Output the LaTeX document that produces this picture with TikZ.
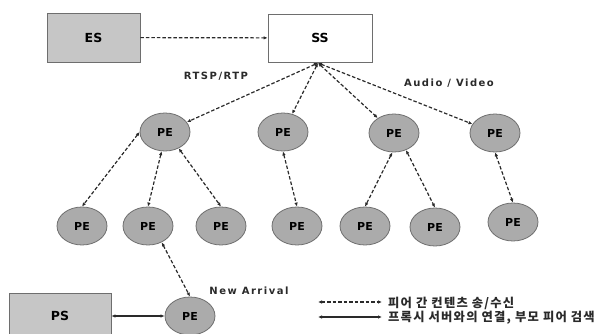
\documentclass[tikz,border=0pt]{standalone}
\usepackage{fontspec}
\setmainfont{DejaVu Sans}
\newfontfamily\krfont{Noto Sans CJK KR}[LetterSpace=10]
\newfontfamily\lblfont{DejaVu Sans}[LetterSpace=15]
\usetikzlibrary{arrows.meta,shapes.geometric}
\definecolor{boxgray}{HTML}{C6C6C6}
\definecolor{pegray}{HTML}{ABABAB}
\definecolor{edgegray}{HTML}{6E6E6E}
\definecolor{linecol}{HTML}{2A2A2A}
\tikzset{
  box/.style={draw=edgegray, line width=0.8pt, rectangle, inner sep=0pt, font=\fontsize{12.5}{14}\selectfont\bfseries},
  pe/.style={draw=edgegray, line width=0.8pt, ellipse, fill=pegray, minimum width=50pt, minimum height=38pt, inner sep=0pt, font=\fontsize{11}{13}\selectfont\bfseries},
  dlink/.style={draw=linecol, line width=1.2pt, dash pattern=on 3.5pt off 2pt, {Latex[length=4pt,width=3.5pt]}-{Latex[length=4pt,width=3.5pt]}},
  donelink/.style={draw=linecol, line width=1.2pt, dash pattern=on 3.5pt off 2pt, -{Latex[length=4pt,width=3.5pt]}},
  slink/.style={draw=linecol, line width=1.2pt, {Latex[length=4pt,width=3.5pt]}-{Latex[length=4pt,width=3.5pt]}},
  lbl/.style={font=\lblfont\fontsize{10}{12}\selectfont\bfseries, text=linecol},
  kr/.style={font=\krfont\fontsize{12.3}{14}\selectfont\bfseries, text=linecol, anchor=west, inner sep=0pt}
}
\begin{document}
\begin{tikzpicture}[x=1pt,y=-1pt]
\useasboundingbox (0,0) rectangle (598,334);
% boxes
\node[box, fill=boxgray, minimum width=93pt, minimum height=49pt] (ES) at (93.5,37.5) {ES};
\node[box, fill=white, minimum width=104pt, minimum height=48pt] (SS) at (320,38) {SS};
\node[box, fill=boxgray, minimum width=102pt, minimum height=46pt] (PS) at (60,316) {PS};
% PE level 1
\node[pe] (A) at (165,132) {PE};
\node[pe] (B) at (283,132) {PE};
\node[pe] (C) at (394,133) {PE};
\node[pe] (D) at (495,133) {PE};
% PE level 2
\node[pe] (a1) at (82,226) {PE};
\node[pe] (a2) at (148,226) {PE};
\node[pe] (a3) at (221,226) {PE};
\node[pe] (b1) at (297,226) {PE};
\node[pe] (c1) at (365,226) {PE};
\node[pe] (c2) at (435,227) {PE};
\node[pe] (d1) at (513,222) {PE};
% new arrival
\node[pe] (N) at (190,316) {PE};
% links
\draw[donelink] (ES) -- (SS);
\coordinate (SSb) at (318,63);
\draw[dlink] (SSb) -- (A);
\draw[dlink] (SSb) -- (B);
\draw[dlink] (SSb) -- (C);
\draw[dlink] (SSb) -- (D);
\draw[dlink] (A.west) -- (a1.north);
\draw[dlink] (A.-100) -- (a2.north);
\draw[dlink] (A.-50) -- (a3.north);
\draw[dlink] (B.south) -- (b1.north);
\draw[dlink] (C.-95) -- (c1.north);
\draw[dlink] (C.-55) -- (c2.north);
\draw[dlink] (D.south) -- (d1.north);
\draw[dlink] (a2.-50) -- (N.north);
\draw[slink] (PS) -- (N);
% labels
\node[lbl] (rtsp) at (216,76) {RTSP/RTP};
\node[lbl] (av) at (449,83) {Audio / Video};
\node[lbl] (na) at (249,291) {New Arrival};
% legend
\coordinate (L1a) at (318,302);
\coordinate (L1b) at (382,302);
\coordinate (L2a) at (318,317);
\coordinate (L2b) at (382,317);
\draw[dlink] (L1a) -- (L1b);
\draw[slink] (L2a) -- (L2b);
\node[kr] (t1) at (388,303) {피어 간 컨텐츠 송/수신};
\node[kr] (t2) at (388,318) {프록시 서버와의 연결, 부모 피어 검색};
\end{tikzpicture}
\end{document}
